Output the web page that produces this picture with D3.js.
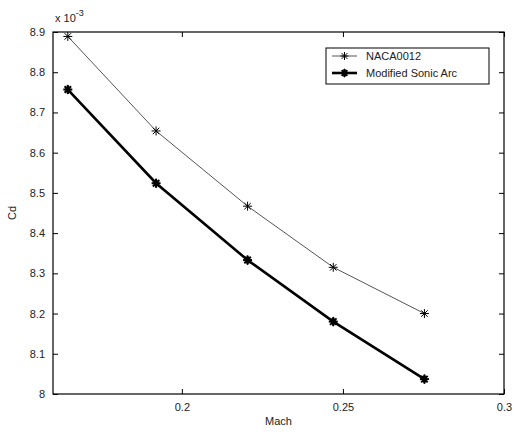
<!DOCTYPE html>
<html>
<head>
<meta charset="utf-8">
<script src="https://cdn.jsdelivr.net/npm/d3@7"></script>
<style>
  body { margin: 0; background: #fff; }
  text { font-family: "Liberation Sans", Arial, sans-serif; font-size: 11px; fill: #222; }
</style>
</head>
<body>
<svg id="chart" width="514" height="435"></svg>
<script>
// values (Cd in units of 1e-3)
var mach = [0.1646, 0.1920, 0.2204, 0.2470, 0.2753];
var nacaCd = [8.889, 8.654, 8.467, 8.315, 8.200];
var sonicCd = [8.757, 8.524, 8.333, 8.180, 8.037];
var seriesNames = ["NACA0012", "Modified Sonic Arc"];
var xTicks = [0.2, 0.25, 0.3];
var yTicks = [8, 8.1, 8.2, 8.3, 8.4, 8.5, 8.6, 8.7, 8.8, 8.9];

var plotL = 53, plotR = 504, plotT = 32, plotB = 394;
var svg = d3.select("#chart");

var x = d3.scaleLinear().domain([0.16, 0.3]).range([plotL, plotR]);
var y = d3.scaleLinear().domain([8, 8.9]).range([plotB, plotT]);

function drawAxes() {
    // box
    svg.append("rect")
        .attr("x", plotL).attr("y", plotT)
        .attr("width", plotR - plotL).attr("height", plotB - plotT)
        .attr("fill", "none").attr("stroke", "#000").attr("stroke-width", 1.2);

    var xb = svg.append("g").attr("transform", "translate(0," + plotB + ")")
        .call(d3.axisBottom(x).tickValues(xTicks).tickSize(-5).tickPadding(9).tickFormat(d3.format("")));
    var xt = svg.append("g").attr("transform", "translate(0," + plotT + ")")
        .call(d3.axisTop(x).tickValues(xTicks).tickSize(-5).tickFormat(""));
    var yl = svg.append("g").attr("transform", "translate(" + plotL + ",0)")
        .call(d3.axisLeft(y).tickValues(yTicks).tickSize(-5).tickPadding(8).tickFormat(d3.format("")));
    var yr = svg.append("g").attr("transform", "translate(" + plotR + ",0)")
        .call(d3.axisRight(y).tickValues(yTicks).tickSize(-5).tickFormat(""));

    [xb, xt, yl, yr].forEach(function(g){
        g.select(".domain").remove();
        g.selectAll(".tick line").attr("stroke", "#000");
        g.selectAll("text").attr("font-size", 11).attr("fill", "#222")
            .style("font-family", "Liberation Sans, Arial, sans-serif");
    });

    svg.append("text").attr("x", (plotL + plotR) / 2).attr("y", 425)
        .attr("text-anchor", "middle").text("Mach");
    svg.append("text").attr("transform", "translate(16," + 213 + ") rotate(-90)")
        .attr("text-anchor", "middle").text("Cd");

    var exp = svg.append("text").attr("x", 55).attr("y", 22);
    exp.append("tspan").text("x 10");
    exp.append("tspan").attr("dy", -6).attr("font-size", 9).text("-3");
}

function asterisk(g, cx, cy, r, w) {
    var a = r * 0.72;
    var segs = [[0, -r, 0, r], [-r, 0, r, 0], [-a, -a, a, a], [-a, a, a, -a]];
    segs.forEach(function(s){
        g.append("line")
            .attr("x1", cx + s[0]).attr("y1", cy + s[1])
            .attr("x2", cx + s[2]).attr("y2", cy + s[3])
            .attr("stroke", "#000").attr("stroke-width", w);
    });
}

function drawSeries() {
    var line = d3.line()
        .x(function(d){ return x(d[0]); })
        .y(function(d){ return y(d[1]); });

    var naca = d3.zip(mach, nacaCd);
    var sonic = d3.zip(mach, sonicCd);

    svg.append("path").datum(naca).attr("d", line)
        .attr("fill", "none").attr("stroke", "#555").attr("stroke-width", 1);
    svg.append("path").datum(sonic).attr("d", line)
        .attr("fill", "none").attr("stroke", "#000").attr("stroke-width", 2.6);

    var g = svg.append("g");
    naca.forEach(function(d){ asterisk(g, x(d[0]), y(d[1]), 4.5, 1); });
    sonic.forEach(function(d){
        asterisk(g, x(d[0]), y(d[1]), 4.5, 2);
        g.append("path").attr("d", d3.symbol().type(d3.symbolDiamond).size(30))
            .attr("transform", "translate(" + x(d[0]) + "," + y(d[1]) + ")")
            .attr("fill", "#000");
    });
}

function drawLegend() {
    var lg = svg.append("g");
    lg.append("rect").attr("x", 326).attr("y", 48).attr("width", 163).attr("height", 36)
        .attr("fill", "#fff").attr("stroke", "#000").attr("stroke-width", 1);

    var rows = [56, 73];
    seriesNames.forEach(function(name, i){
        var cy = rows[i];
        lg.append("line").attr("x1", 332).attr("x2", 357).attr("y1", cy).attr("y2", cy)
            .attr("stroke", i === 0 ? "#555" : "#000").attr("stroke-width", i === 0 ? 1 : 2.6);
        asterisk(lg, 344.5, cy, 4, i === 0 ? 1 : 2);
        if (i === 1) {
            lg.append("path").attr("d", d3.symbol().type(d3.symbolDiamond).size(26))
                .attr("transform", "translate(344.5," + cy + ")").attr("fill", "#000");
        }
        lg.append("text").attr("x", 366).attr("y", cy + 4).text(name);
    });
}

drawAxes();
drawSeries();
drawLegend();
</script>
</body>
</html>
